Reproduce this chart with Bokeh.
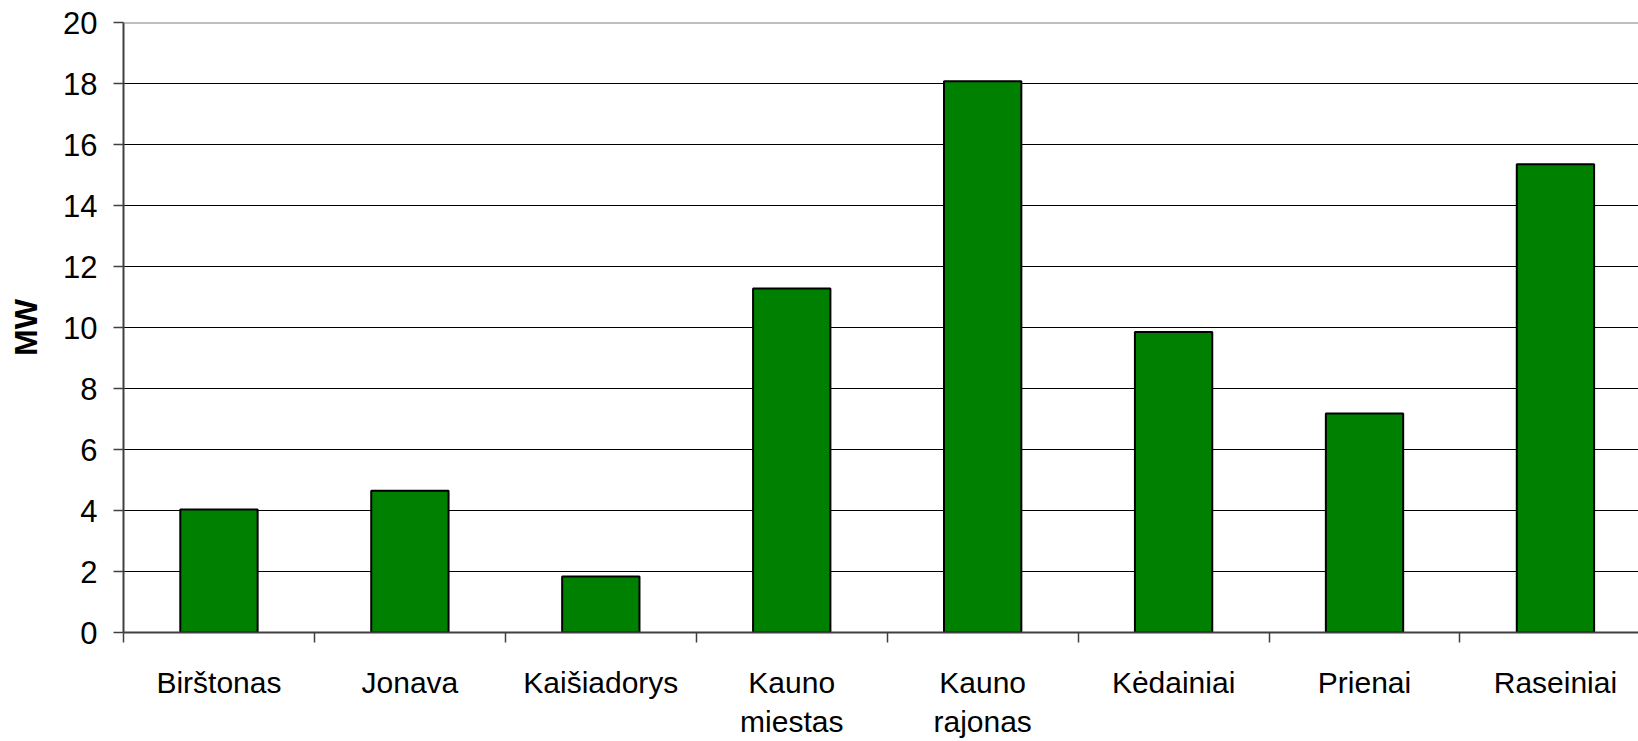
from bokeh.plotting import figure
from bokeh.models import Range1d, FixedTicker, Span, ColumnDataSource
from bokeh.embed import file_html
from bokeh.resources import INLINE

# Installed capacity per municipality (MW)
categories = ["Birštonas", "Jonava", "Kaišiadorys", "Kauno\nmiestas",
              "Kauno\nrajonas", "Kėdainiai", "Prienai", "Raseiniai"]
values = [4.03, 4.65, 1.84, 11.28, 18.07, 9.85, 7.18, 15.35]
y_ticks = [0, 2, 4, 6, 8, 10, 12, 14, 16, 18, 20]

FONT = "Liberation Sans"

centers = [i + 0.5 for i in range(len(categories))]
bounds = [float(i) for i in range(len(categories))]

p = figure(width=1638, height=741, output_backend="svg", toolbar_location=None,
           x_range=Range1d(0, 7.935), y_range=Range1d(0, 20),
           min_border_left=123, min_border_right=0, min_border_top=22,
           min_border_bottom=107)
p.outline_line_color = None
p.background_fill_color = "white"
p.border_fill_color = "white"

src = ColumnDataSource(dict(x=centers, top=values, cat=categories))
p.vbar(x="x", top="top", bottom=0, width=0.405, source=src,
       fill_color="#008000", line_color="black", line_width=2)

# x axis: category names centred, tick marks at the category boundaries
xa = p.xaxis[0]
xa.ticker = FixedTicker(ticks=centers, minor_ticks=bounds)
xa.major_label_overrides = {c: name for c, name in zip(centers, categories)}
xa.major_tick_out = 0
xa.major_tick_in = 0
xa.minor_tick_out = 10
xa.minor_tick_in = 0
xa.minor_tick_line_color = "#404040"
xa.minor_tick_line_width = 1.5
xa.axis_line_color = "#404040"
xa.axis_line_width = 2
xa.major_label_text_font = FONT
xa.major_label_text_font_size = "30px"
xa.major_label_text_color = "black"
xa.major_label_standoff = 23

# y axis
ya = p.yaxis[0]
ya.ticker = FixedTicker(ticks=y_ticks)
ya.major_tick_out = 10
ya.major_tick_in = 0
ya.minor_tick_out = 0
ya.minor_tick_in = 0
ya.major_tick_line_color = "#404040"
ya.major_tick_line_width = 1.5
ya.axis_line_color = "#404040"
ya.axis_line_width = 2
ya.major_label_text_font = FONT
ya.major_label_text_font_size = "31px"
ya.major_label_text_color = "black"
ya.major_label_standoff = 16
ya.axis_label = "MW"
ya.axis_label_text_font = FONT
ya.axis_label_text_font_size = "32px"
ya.axis_label_text_font_style = "bold"
ya.axis_label_text_color = "black"
ya.axis_label_standoff = 16

p.xgrid.grid_line_color = None
p.ygrid.ticker = FixedTicker(ticks=y_ticks[1:-1])
p.ygrid.grid_line_color = "black"
p.ygrid.grid_line_width = 1

# top edge of the plot area
p.add_layout(Span(location=20, dimension="width", line_color="#808080",
                  line_width=2))

open("out.html", "w").write(file_html(p, INLINE))
